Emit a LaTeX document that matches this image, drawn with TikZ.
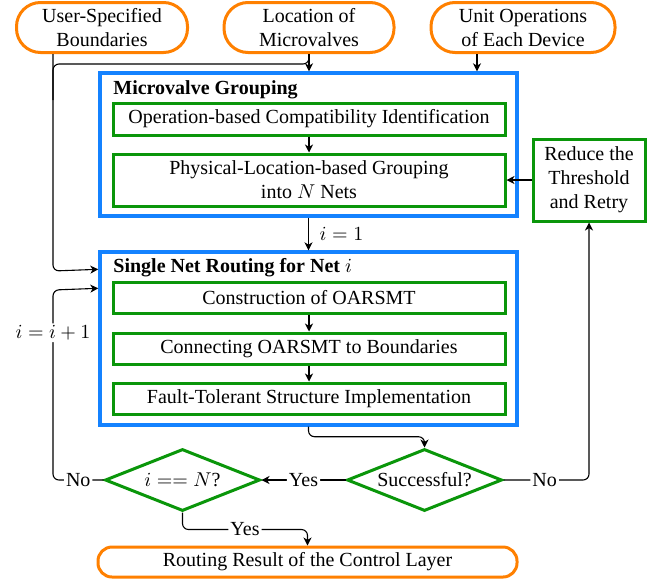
\documentclass[tikz,border=0pt]{standalone}
\usepackage{fontspec}
\setmainfont{Liberation Serif}
\usetikzlibrary{arrows.meta,shapes.geometric}
\definecolor{myblue}{RGB}{20,130,255}
\definecolor{mygreen}{RGB}{10,150,10}
\definecolor{myorange}{RGB}{255,128,0}
\tikzset{
  term/.style={draw=myorange, line width=1.5pt, rounded corners=12pt, align=center, inner sep=0pt},
  bluebox/.style={draw=myblue, line width=1.7pt, inner sep=0pt},
  greenbox/.style={draw=mygreen, line width=1.5pt, align=center, inner sep=0pt, minimum width=196pt},
  dia/.style={draw=mygreen, line width=1.5pt, diamond, inner sep=0pt, minimum width=77.5pt, minimum height=31pt},
  arr/.style={-{Stealth[length=4pt,width=4pt,inset=1.2pt]}, line width=0.55pt, rounded corners=3pt},
  ln/.style={line width=0.55pt, rounded corners=3pt},
  lbl/.style={fill=white, inner sep=1pt}
}
\begin{document}
\begin{tikzpicture}[x=0.5pt,y=-0.5pt]
\useasboundingbox (0,0) rectangle (667,584);
% terminals
\node[term, minimum width=85.5pt, minimum height=25pt] (t1) at (102,27.5) {User-Specified\\Boundaries};
\node[term, minimum width=85pt, minimum height=25pt] (t2) at (309,27.5) {Location of\\Microvalves};
\node[term, minimum width=92pt, minimum height=25pt] (t3) at (523,27.5) {Unit Operations\\of Each Device};
% group 1
\node[bluebox, minimum width=208.5pt, minimum height=71.5pt] (b1) at (308.5,144.5) {};
\node[anchor=west, inner sep=0pt] (h1) at (113,90) {\textbf{Microvalve Grouping}};
\node[greenbox, minimum height=16pt] (A) at (309,119) {Operation-based Compatibility Identification};
\node[greenbox, minimum height=26pt] (B) at (309,180) {Physical-Location-based Grouping\\into $N$ Nets};
\node[greenbox, minimum width=56pt, minimum height=41pt] (R) at (589,180) {Reduce the\\Threshold\\and Retry};
% group 2
\node[bluebox, minimum width=208.5pt, minimum height=86.5pt] (b2) at (308.5,338.5) {};
\node[anchor=west, inner sep=0pt] (h2) at (113,268) {\textbf{Single Net Routing for Net} $i$};
\node[greenbox, minimum height=15.5pt] (C) at (309,297.5) {Construction of OARSMT};
\node[greenbox, minimum height=15.5pt] (D) at (309,348.5) {Connecting OARSMT to Boundaries};
\node[greenbox, minimum height=15.5pt] (E) at (309,398.5) {Fault-Tolerant Structure Implementation};
% decisions
\node[dia] (d1) at (424.5,480) {};
\node (d1t) at (d1) {Successful?};
\node[dia] (d2) at (182.5,480) {};
\node (d2t) at (d2) {$i == N$?};
% final
\node[term, rounded corners=7pt, minimum width=209.5pt, minimum height=15pt] (f) at (307.5,562) {Routing Result of the Control Layer};
% helper coordinates
\coordinate (xl) at (53,0);
\coordinate (xr) at (477,0);
% connectors
\draw[arr] (t1.south -| xl) -- (xl |- 0,271) -- ([yshift=-9.5pt]b2.north west);
\draw[ln] (t2.south) |- (xl |- 0,64) -- (xl |- 0,100);
\draw[arr] (t2.south) -- (t2.south |- b1.north);
\draw[arr] (t3.south -| xr) -- (xr |- b1.north);
\draw[arr] (A) -- (B);
\draw[arr] (R) -- (B);
\draw[arr] (b1.south) -- node[right, xshift=2pt] {$i=1$} (b2.north);
\draw[arr] (C) -- (D);
\draw[arr] (D) -- (E);
\draw[arr] (b2.south) -- ++(0,10) -| (d1.north);
\draw[arr] (d1.west) -- node[lbl] {Yes} (d2.east);
\draw[arr] (d1.east) -| node[lbl, pos=0.24] {No} (R.south);
\draw[arr] (d2.west) -- node[lbl] {No} (xl |- d2.west) -- node[lbl, pos=0.775] {$i=i+1$} (xl |- 0,290) -- ([yshift=-19pt]b2.north west);
\draw[arr] (d2.south) -- ++(0,17) -| node[lbl, pos=0.25] {Yes} (f.north);
\end{tikzpicture}
\end{document}
